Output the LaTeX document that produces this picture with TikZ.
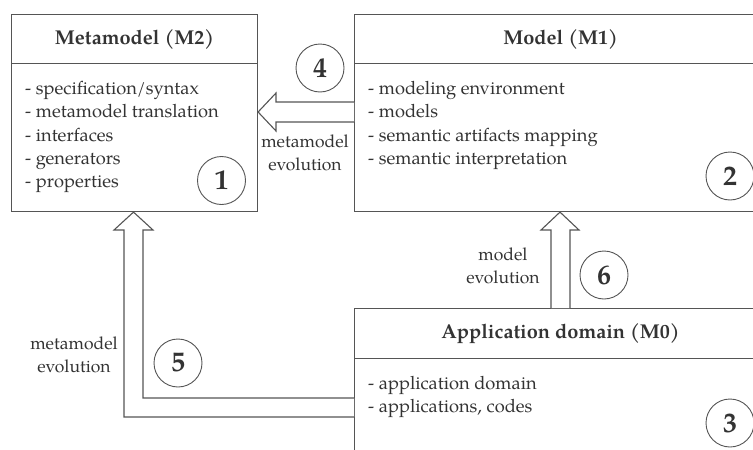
\documentclass[tikz,border=0pt]{standalone}
\usepackage{fontspec}
\setmainfont{TeX Gyre Pagella}
\usetikzlibrary{calc}
\definecolor{ink}{HTML}{333333}
\definecolor{edge}{HTML}{555555}
\tikzset{
  box/.style={draw=edge, line width=1.1pt, rectangle, inner sep=0pt, anchor=north west},
  title/.style={font=\fontsize{20}{22}\selectfont\bfseries, text=ink},
  items/.style={font=\fontsize{18.3}{23.3}\selectfont, text=ink, align=left, anchor=north west, inner sep=0pt},
  lbl/.style={font=\fontsize{17.5}{23}\selectfont, text=ink, align=center, inner sep=0pt},
  num/.style={circle, draw=edge, line width=0.9pt, minimum size=48pt, inner sep=0pt,
              font=\fontsize{28}{28}\selectfont\bfseries, text=ink},
  blockarrow/.style={draw=edge, line width=1.1pt, fill=white, line join=miter}
}
\begin{document}
\begin{tikzpicture}[x=1pt, y=-1pt]
\useasboundingbox (0,0) rectangle (753,450);
\clip (0,0) rectangle (753,450);

% Metamodel (M2)
\node[box, minimum width=246pt, minimum height=49pt] (metahead) at (11,14) {};
\node[box, minimum width=246pt, minimum height=148pt] (metabody) at (11,63) {};
\node[title] at (metahead.center) {Metamodel (M2)};
\node[items] (metaitems) at (25,81) {- specification/syntax\\- metamodel translation\\- interfaces\\- generators\\- properties};

% Model (M1)
\node[box, minimum width=412pt, minimum height=49pt] (modelhead) at (354,14) {};
\node[box, minimum width=412pt, minimum height=148pt] (modelbody) at (354,63) {};
\node[title] at (modelhead.center) {Model (M1)};
\node[items] (modelitems) at (368,81) {- modeling environment\\- models\\- semantic artifacts mapping\\- semantic interpretation};

% Application domain (M0)
\node[box, minimum width=412pt, minimum height=50pt] (apphead) at (354,308) {};
\node[box, minimum width=412pt, minimum height=110pt] (appbody) at (354,358) {};
\node[title] at (apphead.center) {Application domain (M0)};
\node[items] (appitems) at (368,376) {- application domain\\- applications, codes};

% hollow arrows between the levels
\draw[blockarrow] (modelbody.west |- 0,102) -- (276,102) -- (276,93)
  -- (metabody.east |- 0,112) -- (276,131) -- (276,122) -- (modelbody.west |- 0,122);
\draw[blockarrow] (551,0 |- apphead.north) -- (551,230) -- (541,230)
  -- (560,0 |- modelbody.south) -- (579,230) -- (570,230) -- (570,0 |- apphead.north);
\draw[blockarrow] (appbody.west |- 0,398) -- (143,398) -- (143,230) -- (153,230)
  -- (133.5,0 |- metabody.south) -- (114,230) -- (124,230) -- (124,417) -- (appbody.west |- 0,417);

% arrow labels
\node[lbl] (lbl4) at (305,153) {metamodel\\evolution};
\node[lbl] (lbl6) at (503,266) {model\\evolution};
\node[lbl] (lbl5) at (74,355) {metamodel\\evolution};

% numbered markers
\node[num] (c1) at (221.5,180.5) {1};
\node[num] (c2) at (730,176) {2};
\node[num] (c3) at (730,423) {3};
\node[num] (c4) at (320,68) {4};
\node[num] (c5) at (178,363) {5};
\node[num] (c6) at (604,275) {6};
\end{tikzpicture}
\end{document}
